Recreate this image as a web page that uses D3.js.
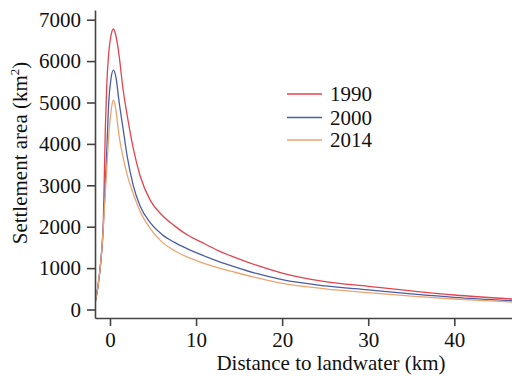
<!DOCTYPE html>
<html>
<head>
<meta charset="utf-8">
<script src="https://cdn.jsdelivr.net/npm/d3@7"></script>
<style>
  html, body { margin: 0; padding: 0; background: #fff; }
  svg { display: block; }
  text { font-family: "Liberation Serif", "Times New Roman", serif; fill: #111; }
</style>
</head>
<body>
<svg id="chart" width="512" height="376"></svg>
<script>
// distance to landwater (km)
const distances = [-1.74, -1.4, -1.05, -0.78, -0.55, -0.38, -0.15, 0.1, 0.4, 0.7, 1.05, 1.5, 2.0, 2.7, 3.5, 4.7, 6, 7.5, 9, 10.5, 12.5, 14.5, 17, 20, 25, 30, 35, 40, 46.7];
const series1990 = [150, 551, 1196, 2050, 4300, 5382, 6188, 6600, 6775, 6600, 6150, 5350, 4690, 3900, 3230, 2630, 2290, 2020, 1800, 1640, 1430, 1260, 1070, 880, 672, 560, 450, 350, 254];
const series2000 = [150, 551, 1196, 2000, 3000, 3800, 4981, 5550, 5780, 5600, 5030, 4400, 3700, 3000, 2500, 2090, 1820, 1620, 1465, 1330, 1170, 1030, 870, 720, 570, 475, 380, 295, 213];
const series2014 = [150, 551, 1196, 1950, 2800, 3370, 4174, 4750, 5060, 4800, 4200, 3700, 3250, 2800, 2370, 1950, 1640, 1420, 1265, 1145, 1010, 900, 770, 630, 500, 408, 325, 254, 181];
const seriesNames = ["1990", "2000", "2014"];
const seriesColors = ["#e3434d", "#4a5ca6", "#eba470"];
const xTicks = [0, 10, 20, 30, 40];
const yTicks = [0, 1000, 2000, 3000, 4000, 5000, 6000, 7000];

const FONT = '"Liberation Serif", "Times New Roman", serif';
const svg = d3.select("#chart");
const x = d3.scaleLinear().domain([-1.74, 46.7]).range([95, 512]);
const y = d3.scaleLinear().domain([-205, 7234]).range([318, 10]);

svg.append("defs").append("clipPath").attr("id", "plot")
  .append("rect").attr("x", 95).attr("y", 0).attr("width", 417).attr("height", 318);

const allSeries = [series1990, series2000, series2014];
const line = d3.line()
  .x(d => x(d[0]))
  .y(d => y(d[1]))
  .curve(d3.curveMonotoneX);

const g = svg.append("g").attr("clip-path", "url(#plot)");
allSeries.forEach((vals, i) => {
  g.append("path")
    .datum(distances.map((d, j) => [d, vals[j]]))
    .attr("d", line)
    .attr("fill", "none")
    .attr("stroke", seriesColors[i])
    .attr("stroke-width", 1.3);
});

// axes
const yAxis = svg.append("g")
  .attr("transform", "translate(95,0)")
  .call(d3.axisLeft(y).tickValues(yTicks).tickFormat(d3.format("d")).tickSize(8).tickSizeOuter(0).tickPadding(6));
const xAxis = svg.append("g")
  .attr("transform", "translate(0,318)")
  .call(d3.axisBottom(x).tickValues(xTicks).tickFormat(d3.format("d")).tickSize(8).tickSizeOuter(0).tickPadding(6));

[yAxis, xAxis].forEach(a => {
  a.attr("font-family", FONT).attr("font-size", 21);
  a.selectAll("path, line").attr("stroke", "#444").attr("stroke-width", 1.6);
  a.selectAll("text").attr("font-size", 21).attr("fill", "#111").attr("font-family", FONT);
});

// axis titles
svg.append("text")
  .attr("x", 331).attr("y", 370)
  .attr("text-anchor", "middle")
  .attr("font-family", FONT)
  .attr("font-size", 21)
  .text("Distance to landwater (km)");

const yt = svg.append("text")
  .attr("transform", "translate(27,153) rotate(-90)")
  .attr("text-anchor", "middle")
  .attr("font-family", FONT)
  .attr("font-size", 21);
yt.append("tspan").text("Settlement area (km");
yt.append("tspan").attr("font-size", 13).attr("dy", -8).text("2");
yt.append("tspan").attr("dy", 8).text(")");

// legend
const legendY = [94, 117.5, 140];
seriesNames.forEach((name, i) => {
  svg.append("line")
    .attr("x1", 287).attr("x2", 322)
    .attr("y1", legendY[i]).attr("y2", legendY[i])
    .attr("stroke", seriesColors[i]).attr("stroke-width", 1.3);
  svg.append("text")
    .attr("x", 330).attr("y", legendY[i]).attr("dy", "0.35em")
    .attr("font-family", FONT)
    .attr("font-size", 21)
    .text(name);
});
</script>
</body>
</html>
